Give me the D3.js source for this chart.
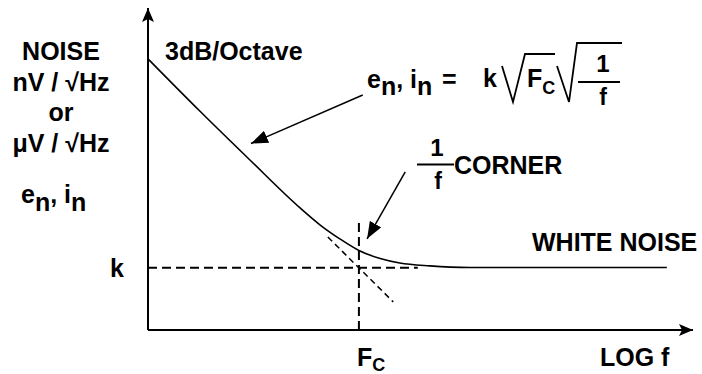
<!DOCTYPE html>
<html>
<head>
<meta charset="utf-8">
<script src="https://d3js.org/d3.v7.min.js"></script>
<style>
  body { margin: 0; background: #fff; }
  text { font-family: 'Liberation Sans', Arial, sans-serif; font-weight: bold; fill: #000; }
</style>
</head>
<body>
<div id="chart"></div>
<script>
// noise density curve (x: log f, y: log noise, both 0-100 of plot)
var curveX = [0, 9.5, 18.7, 27.9, 31.6, 35.2, 38.7, 42.6, 46.2, 51.7, 59.1, 95.2];
var curveY = [84.2, 68.0, 52.8, 37.9, 32.6, 28.3, 24.7, 22.2, 20.8, 19.9, 19.4, 19.4];
var kLevel = 19.3;      // white noise floor
var fcPos = 38.7;       // corner frequency
var slopeStart = [0, 84.2];  // 3dB/octave asymptote start
var slopeExt = [33, 45];     // dashed extension of asymptote
var leftLabels = ["NOISE", "nV / \u221AHz", "or", "\u03BCV / \u221AHz"];

var W = 702, H = 374;
var svg = d3.select("#chart").append("svg").attr("width", W).attr("height", H);

var x = d3.scaleLinear().domain([0, 100]).range([148, 693]);
var y = d3.scaleLinear().domain([0, 100]).range([330, 8]);

// arrow markers
var defs = svg.append("defs");
defs.append("marker")
    .attr("id", "head").attr("markerUnits", "userSpaceOnUse")
    .attr("viewBox", "0 0 17 13").attr("refX", 17).attr("refY", 6.5)
    .attr("markerWidth", 17).attr("markerHeight", 13).attr("orient", "auto")
  .append("path").attr("d", "M0,0L17,6.5L0,13Z").attr("fill", "#000");
defs.append("marker")
    .attr("id", "axhead").attr("markerUnits", "userSpaceOnUse")
    .attr("viewBox", "0 0 14 12").attr("refX", 14).attr("refY", 6)
    .attr("markerWidth", 14).attr("markerHeight", 12).attr("orient", "auto")
  .append("path").attr("d", "M0,0L14,6L0,12L3,6Z").attr("fill", "#000");

// axes
svg.append("line").attr("x1", x(0)).attr("y1", y(0)).attr("x2", x(0)).attr("y2", y(100))
    .attr("stroke", "#000").attr("stroke-width", 2).attr("marker-end", "url(#axhead)");
svg.append("line").attr("x1", x(0)).attr("y1", y(0)).attr("x2", x(100)).attr("y2", y(0))
    .attr("stroke", "#000").attr("stroke-width", 2).attr("marker-end", "url(#axhead)");

// dashed guides
svg.append("line").attr("x1", x(0)).attr("y1", y(kLevel)).attr("x2", x(49.5)).attr("y2", y(kLevel))
    .attr("stroke", "#000").attr("stroke-width", 2).attr("stroke-dasharray", "9,5");
svg.append("line").attr("x1", x(fcPos)).attr("y1", y(33.2)).attr("x2", x(fcPos)).attr("y2", y(0))
    .attr("stroke", "#000").attr("stroke-width", 2).attr("stroke-dasharray", "9,5");

var slope = (kLevel - slopeStart[1]) / (fcPos - slopeStart[0]);
function asym(v) { return slopeStart[1] + slope * (v - slopeStart[0]); }
svg.append("line")
    .attr("x1", x(slopeExt[0])).attr("y1", y(asym(slopeExt[0])))
    .attr("x2", x(slopeExt[1])).attr("y2", y(asym(slopeExt[1])))
    .attr("stroke", "#000").attr("stroke-width", 1.5).attr("stroke-dasharray", "6,4");

// the noise curve
var pts = curveX.map(function (d, i) { return [d, curveY[i]]; });
svg.append("path").datum(pts)
    .attr("d", d3.line().x(function (d) { return x(d[0]); }).y(function (d) { return y(d[1]); })
        .curve(d3.curveMonotoneX))
    .attr("fill", "none").attr("stroke", "#000").attr("stroke-width", 1.6);

// pointer arrows
svg.append("line").attr("x1", x(39.4)).attr("y1", y(73.0)).attr("x2", x(18.9)).attr("y2", y(57.9))
    .attr("stroke", "#000").attr("stroke-width", 1.5).attr("marker-end", "url(#head)");
svg.append("line").attr("x1", x(47.2)).attr("y1", y(49.1)).attr("x2", x(40.2)).attr("y2", y(28.3))
    .attr("stroke", "#000").attr("stroke-width", 1.5).attr("marker-end", "url(#head)");

// left labels
svg.selectAll(".ylab").data(leftLabels).enter().append("text")
    .attr("class", "ylab")
    .attr("x", 61).attr("y", function (d, i) { return 60 + i * 30.6; })
    .attr("text-anchor", "middle").style("font-size", "25px")
    .text(function (d) { return d; });

// e_n, i_n on the left
var t1 = svg.append("text").attr("x", 21).attr("y", 203).style("font-size", "25px");
t1.append("tspan").text("e");
t1.append("tspan").attr("dy", 8).text("n");
t1.append("tspan").attr("dy", -8).text(", i");
t1.append("tspan").attr("dy", 8).text("n");

svg.append("text").attr("x", 110).attr("y", 277).style("font-size", "25px").text("k");
svg.append("text").attr("x", 165).attr("y", 60).style("font-size", "25px").text("3dB/Octave");
svg.append("text").attr("x", 532).attr("y", 251).style("font-size", "25px").text("WHITE NOISE");
svg.append("text").attr("x", 600).attr("y", 366).style("font-size", "25px").text("LOG f");

// F_C under the axis
var fc = svg.append("text").attr("x", x(fcPos) - 2).attr("y", 366).style("font-size", "25px");
fc.append("tspan").text("F");
fc.append("tspan").attr("dy", 5).style("font-size", "18px").text("C");

// equation e_n, i_n = k sqrt(Fc) sqrt(1/f)
var eq = svg.append("text").attr("x", 367).attr("y", 88).style("font-size", "25px");
eq.append("tspan").text("e");
eq.append("tspan").attr("dy", 7).text("n");
eq.append("tspan").attr("dy", -7).text(", i");
eq.append("tspan").attr("dy", 7).text("n");
eq.append("tspan").attr("dy", -7).attr("x", 442).text("=");
svg.append("text").attr("x", 483).attr("y", 87).style("font-size", "25px").text("k");
var f2 = svg.append("text").attr("x", 527).attr("y", 87).style("font-size", "25px");
f2.append("tspan").text("F");
f2.append("tspan").attr("dy", 7).style("font-size", "18px").text("C");
svg.append("path").attr("d", "M502,66L513,102L525,54L555,54")
    .attr("fill", "none").attr("stroke", "#000").attr("stroke-width", 1.8);
svg.append("path").attr("d", "M557,66L569,102L577,43L622,43")
    .attr("fill", "none").attr("stroke", "#000").attr("stroke-width", 1.8);
svg.append("text").attr("x", 603).attr("y", 72).attr("text-anchor", "middle").style("font-size", "24px").text("1");
svg.append("line").attr("x1", 578).attr("x2", 620).attr("y1", 82).attr("y2", 82)
    .attr("stroke", "#000").attr("stroke-width", 1.8);
svg.append("text").attr("x", 603).attr("y", 105).attr("text-anchor", "middle").style("font-size", "23px").text("f");

// 1/f CORNER
svg.append("text").attr("x", 437).attr("y", 156).attr("text-anchor", "middle").style("font-size", "24px").text("1");
svg.append("line").attr("x1", 417).attr("x2", 454).attr("y1", 164.5).attr("y2", 164.5)
    .attr("stroke", "#000").attr("stroke-width", 1.8);
svg.append("text").attr("x", 438).attr("y", 189).attr("text-anchor", "middle").style("font-size", "23px").text("f");
svg.append("text").attr("x", 454).attr("y", 174).style("font-size", "25px").text("CORNER");
</script>
</body>
</html>
